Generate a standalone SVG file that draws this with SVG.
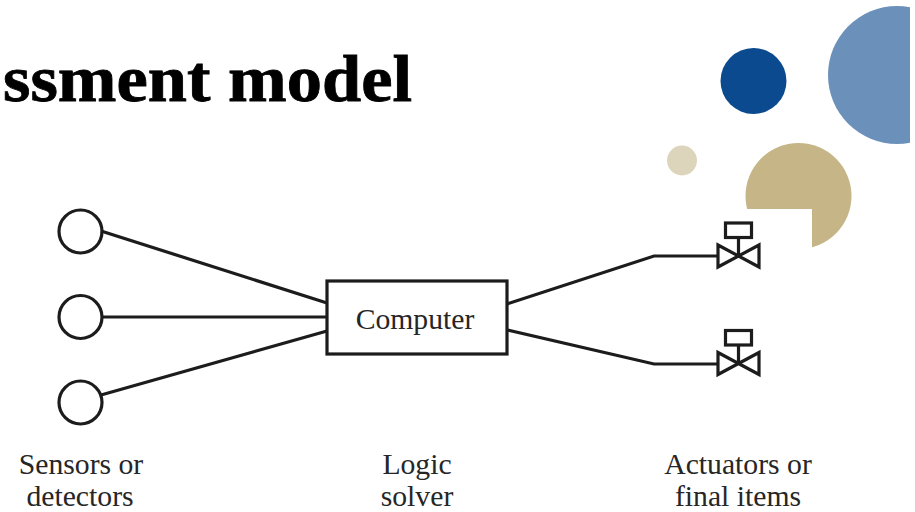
<svg xmlns="http://www.w3.org/2000/svg" width="915" height="512" viewBox="0 0 915 512">
<style>
.ln{fill:none;stroke:#1c1c1c;stroke-width:3.2;stroke-linejoin:miter}
.lb{font-family:"Liberation Serif","Times New Roman",serif;font-size:29.7px;fill:#262626;text-anchor:middle}
</style>
<defs>
<clipPath id="c"><rect x="0" y="0" width="910" height="512"/></clipPath>
<g id="valve"><rect class="ln" x="725.5" y="-33" width="26" height="14.500"/><path class="ln" d="M738.500 -19V0M718 -11V11L759 -11V11Z"/></g>
</defs>
<rect width="915" height="512" fill="#fff"/>
<g id="decor">
<circle cx="897" cy="75" r="69" fill="#6b91bb" clip-path="url(#c)"/>
<circle cx="753.500" cy="81" r="33" fill="#0c4a8f"/>
<circle cx="682" cy="160.500" r="15" fill="#ddd5bb"/>
<circle cx="798.500" cy="196" r="53" fill="#c6b687"/>
<rect x="740" y="209" width="72" height="42" fill="#fff"/>
</g>
<text id="title" x="3" y="101" font-family="'Liberation Serif',serif" font-weight="700" font-size="66" fill="#000" stroke="#000" stroke-width="0.8" textLength="409" lengthAdjust="spacingAndGlyphs">ssment model</text>
<g id="connectors">
<path class="ln" d="M101 231L327 303M102 317H327M101 395L327 331M507 304L654 256H718M507 330L654 364H718"/>
</g>
<g id="sensor1"><circle class="ln" cx="80.500" cy="231.500" r="21.500"/></g>
<g id="sensor2"><circle class="ln" cx="80.500" cy="317" r="21.500"/></g>
<g id="sensor3"><circle class="ln" cx="80.500" cy="402.500" r="21.500"/></g>
<g id="computer"><rect class="ln" x="327" y="281" width="180" height="73" fill="#fff"/><text class="lb" x="415" y="329">Computer</text></g>
<g id="valve1"><use href="#valve" y="256"/></g>
<g id="valve2"><use href="#valve" y="363.500"/></g>
<g id="label-sensors"><text class="lb" x="81" y="474">Sensors or</text><text class="lb" x="80" y="506">detectors</text></g>
<g id="label-logic"><text class="lb" x="417" y="474">Logic</text><text class="lb" x="417" y="506">solver</text></g>
<g id="label-actuators"><text class="lb" x="738" y="474">Actuators or</text><text class="lb" x="738" y="506">final items</text></g>
</svg>
